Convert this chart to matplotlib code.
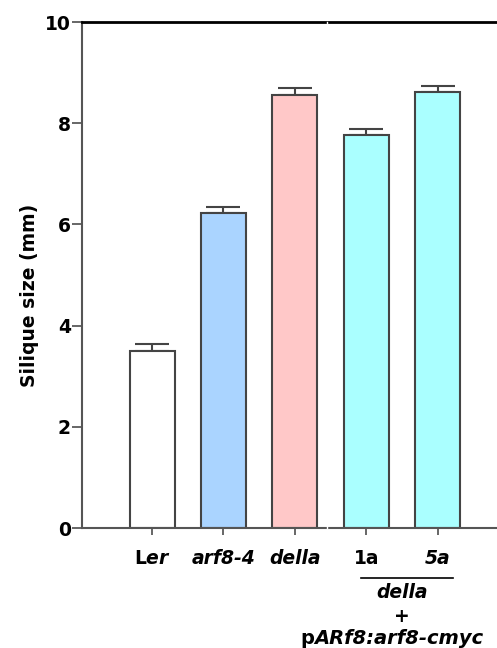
import numpy as np
import matplotlib.pyplot as plt

plt.rcParams['font.family'] = 'DejaVu Sans'
plt.rcParams['font.weight'] = 'bold'
plt.rcParams['mathtext.fontset'] = 'custom'
plt.rcParams['mathtext.rm'] = 'DejaVu Sans:bold'
plt.rcParams['mathtext.it'] = 'DejaVu Sans:bold:italic'
plt.rcParams['mathtext.bf'] = 'DejaVu Sans:bold'

# data
labels = [r'L$\mathit{er}$', 'arf8-4', 'della', '1a', '5a']
label_styles = ['normal', 'italic', 'italic', 'normal', 'italic']
means = [3.49, 6.23, 8.55, 7.76, 8.62]
errors = [0.15, 0.12, 0.15, 0.12, 0.12]
colors = ['#ffffff', '#aad4ff', '#ffc8c8', '#aaffff', '#aaffff']

fig = plt.figure(figsize=(4.97, 6.48), dpi=100)
ax = fig.add_axes([82 / 497, 1 - 528 / 648, 1 - 82 / 497, (528 - 22) / 648])

x = np.arange(len(means))
ax.bar(x, means, width=0.63, color=colors, edgecolor='#444444', linewidth=1.5, zorder=2)
ax.errorbar(x, means, yerr=[np.zeros(len(errors)), errors], fmt='none', ecolor='#444444',
            elinewidth=1.5, capsize=12, capthick=1.5, zorder=1)

ax.set_xlim(-0.98, 4.83)
ax.set_ylim(0, 10)
ax.set_yticks([0, 2, 4, 6, 8, 10])
ax.set_xticks(x)
ax.set_xticklabels(labels)
for lab, st in zip(ax.get_xticklabels(), label_styles):
    lab.set_style(st)
ax.tick_params(axis='y', length=7, width=1.4, color='#666666', labelsize=13.5, pad=1)
ax.tick_params(axis='x', length=5, width=1.4, color='#666666', labelsize=13.5, pad=10)

ax.spines['right'].set_visible(False)
ax.spines['left'].set_color('#555555')
ax.spines['left'].set_linewidth(1.5)
ax.spines['bottom'].set_color('#555555')
ax.spines['bottom'].set_linewidth(1.5)
ax.spines['top'].set_color('black')
ax.spines['top'].set_linewidth(2)

# white seam in the original picture
ax.axvline(2.45, color='white', lw=1, clip_on=False, zorder=5)

fig.text(30 / 497, 1 - 295 / 648, 'Silique size (mm)', rotation=90, ha='center', va='center',
         fontsize=13.5, fontweight='bold')

# group label under 1a / 5a
fig.add_artist(plt.Line2D([361 / 497, 453 / 497], [1 - 578 / 648, 1 - 578 / 648], color='black', lw=1.2))
fig.text(402 / 497, 1 - 593 / 648, 'della', ha='center', va='center', fontsize=13.5,
         fontweight='bold', style='italic')
fig.text(402 / 497, 1 - 617 / 648, '+', ha='center', va='center', fontsize=13.5, fontweight='bold')
tp = fig.text(300 / 497, 1 - 638 / 648, 'p', ha='left', va='center', fontsize=14, fontweight='bold')
ax.annotate('ARf8:arf8-cmyc', xy=(1, 0), xycoords=tp, ha='left', va='bottom', fontsize=14,
            fontweight='bold', style='italic')

plt.savefig('out.png', dpi=100)
